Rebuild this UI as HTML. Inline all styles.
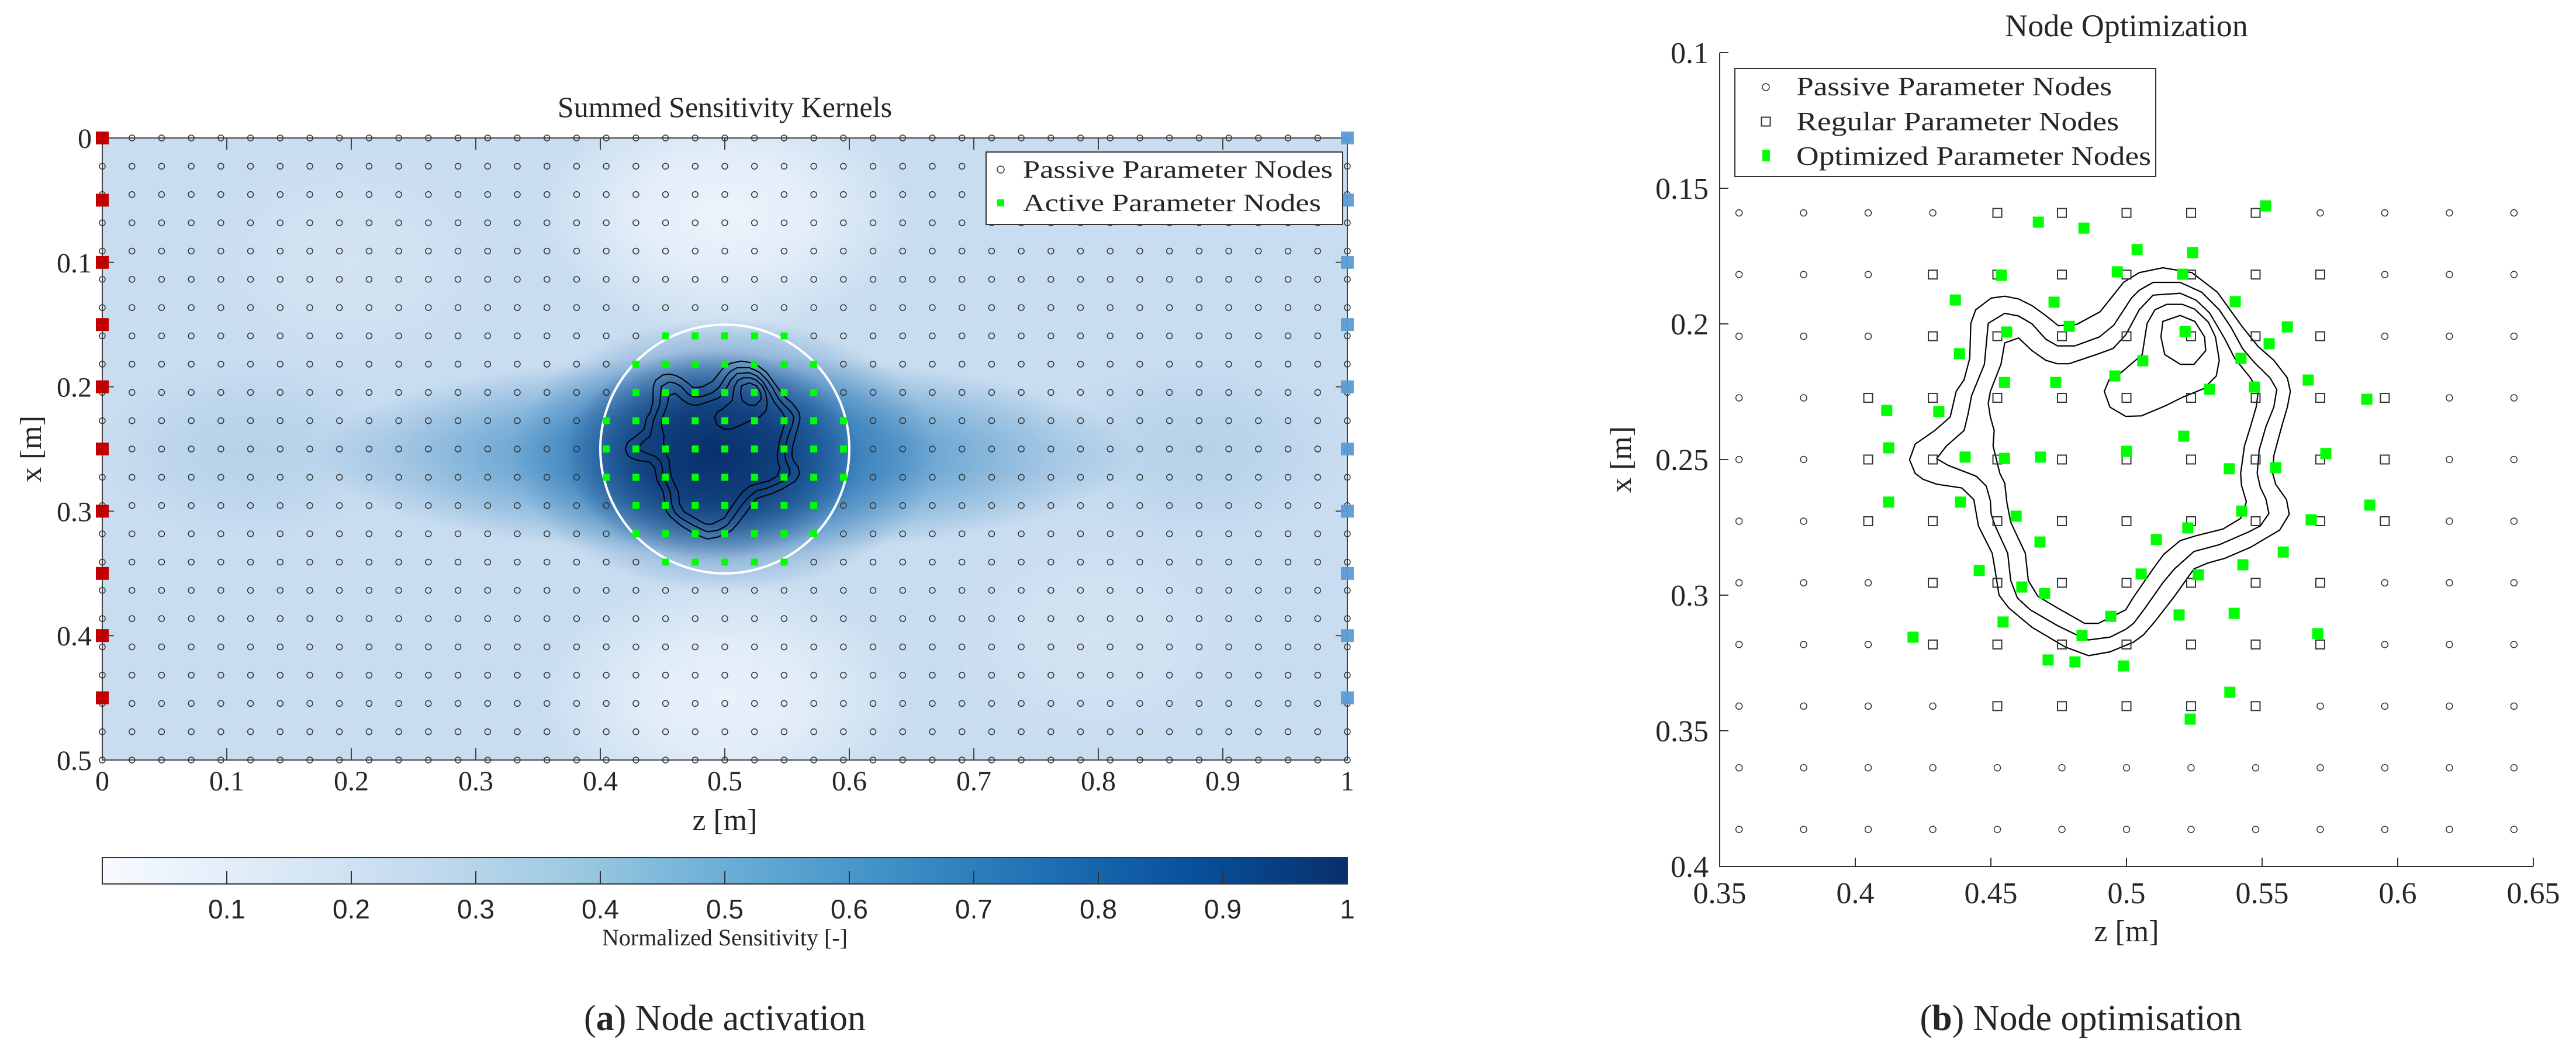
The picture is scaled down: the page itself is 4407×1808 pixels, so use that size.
<!DOCTYPE html>
<html><head><meta charset="utf-8">
<style>
html,body{margin:0;padding:0;background:#fff;}
svg{display:block;}
text{font-family:"Liberation Serif",serif;fill:#262626;}
.sans{font-family:"Liberation Sans",sans-serif;}
</style></head>
<body>
<svg id="fig" xmlns="http://www.w3.org/2000/svg" width="4407" height="1808" viewBox="0 0 4407 1808">
<defs id="defs"></defs>
<g id="left"></g>
<g id="right"></g>
<text x="1240" y="200" font-size="50" text-anchor="middle">Summed Sensitivity Kernels</text>
<text x="1240" y="1420" font-size="52" text-anchor="middle">z [m]</text>
<text transform="translate(70,768) rotate(-90)" font-size="52" text-anchor="middle">x [m]</text>
<text x="1240" y="1617" font-size="40" text-anchor="middle">Normalized Sensitivity [-]</text>
<text x="3638" y="62" font-size="54" text-anchor="middle">Node Optimization</text>
<text x="3638" y="1610" font-size="52" text-anchor="middle">z [m]</text>
<text transform="translate(2790,786) rotate(-90)" font-size="52" text-anchor="middle">x [m]</text>
<text x="1240" y="1762" font-size="62" text-anchor="middle">(<tspan font-weight="bold">a</tspan>) Node activation</text>
<text x="3560" y="1762" font-size="62" text-anchor="middle">(<tspan font-weight="bold">b</tspan>) Node optimisation</text>
</svg>
<script>
// ---------- data ----------
const gridZCount = 42;          // z = j/42
const gridXCount = 44;          // x = i/44
const activeRows = [7,8,9,10,11,12,13,14,15];
const activeColStart = [19,18,18,17,17,17,18,18,19];
const activeColEnd   = [23,24,24,25,25,25,24,24,23];
const sourceX = [0,0.05,0.1,0.15,0.2,0.25,0.3,0.35,0.4,0.45];
const leftXTicks = [0,0.1,0.2,0.3,0.4,0.5,0.6,0.7,0.8,0.9,1];
const leftXTickLabels = ['0','0.1','0.2','0.3','0.4','0.5','0.6','0.7','0.8','0.9','1'];
const leftYTicks = [0,0.1,0.2,0.3,0.4,0.5];
const leftYTickLabels = ['0','0.1','0.2','0.3','0.4','0.5'];
const cbTicks = [0.1,0.2,0.3,0.4,0.5,0.6,0.7,0.8,0.9,1];
const cbTickLabels = ['0.1','0.2','0.3','0.4','0.5','0.6','0.7','0.8','0.9','1'];
const rightZTicks = [0.35,0.4,0.45,0.5,0.55,0.6,0.65];
const rightZTickLabels = ['0.35','0.4','0.45','0.5','0.55','0.6','0.65'];
const rightXTicks = [0.1,0.15,0.2,0.25,0.3,0.35,0.4];
const rightXTickLabels = ['0.1','0.15','0.2','0.25','0.3','0.35','0.4'];
const rightColRange = [15,27];
const rightRowRange = [7,17];
const optZ = [.4675,.4843,.5039,.4539,.4966,.4369,.4733,.4789,.4558,.4384,.4957,.4550,.4739,.5060,.4116,.4308,.4123,.4405,.4550,.4683,.5000,.5513,.5244,.5207,.5401,.5593,.5216,.5526,.5422,.5670,.5306,.5472,.5886,.5211,.5735,.5379,.5550,.4123,.4388,.4593,.4681,.4457,.5054,.4614,.4698,.4942,.4545,.4213,.4836,.4711,.4810,.4989,.5425,.5226,.5110,.5681,.5897,.5578,.5429,.5265,.5194,.5397,.5705,.5381,.5235];
const optX = [.1625,.1647,.1726,.1821,.1808,.1912,.1920,.2009,.2030,.2110,.2192,.2216,.2216,.2136,.2319,.2323,.2457,.2491,.2496,.2491,.2470,.1565,.1737,.1817,.1918,.2011,.2028,.2073,.2127,.2207,.2241,.2233,.2278,.2414,.2478,.2534,.2530,.2657,.2657,.2709,.2804,.2909,.2922,.2970,.2994,.3078,.3099,.3155,.3149,.3239,.3246,.3261,.2690,.2752,.2795,.2722,.2668,.2841,.2888,.2925,.3073,.3067,.3142,.3358,.3457];
const contourOuter = [[.4221,.2551],[.4200,.2501],[.4221,.2443],[.4293,.2393],[.4350,.2343],[.4372,.2249],[.4401,.2206],[.4422,.2127],[.4426,.1998],[.4444,.1948],[.4501,.1905],[.4551,.1898],[.4602,.1908],[.4652,.1933],[.4702,.1969],[.4749,.2007],[.4817,.2002],[.4903,.1955],[.4989,.1847],[.5047,.1811],[.5134,.1793],[.5241,.1811],[.5335,.1883],[.5428,.2012],[.5486,.2084],[.5543,.2134],[.5593,.2199],[.5604,.2249],[.5593,.2307],[.5572,.2379],[.5543,.2486],[.5539,.2551],[.5550,.2591],[.5590,.2648],[.5600,.2702],[.5565,.2760],[.5457,.2824],[.5363,.2864],[.5299,.2882],[.5249,.2903],[.5177,.3004],[.5105,.3097],[.5062,.3147],[.5026,.3173],[.4939,.3209],[.4860,.3223],[.4774,.3191],[.4652,.3119],[.4566,.3047],[.4530,.3000],[.4516,.2911],[.4505,.2846],[.4454,.2745],[.4437,.2648],[.4393,.2605],[.4300,.2591],[.4250,.2573]];
const contourMiddle = [[.4419,.2551],[.4343,.2522],[.4300,.2497],[.4336,.2450],[.4401,.2393],[.4415,.2336],[.4429,.2264],[.4476,.2149],[.4490,.1998],[.4551,.1961],[.4602,.1971],[.4652,.2000],[.4702,.2056],[.4745,.2081],[.4810,.2081],[.4900,.2048],[.4953,.2005],[.5018,.1905],[.5047,.1876],[.5098,.1847],[.5198,.1847],[.5277,.1883],[.5342,.1948],[.5385,.2012],[.5428,.2091],[.5471,.2142],[.5529,.2199],[.5554,.2242],[.5543,.2307],[.5514,.2379],[.5489,.2465],[.5482,.2551],[.5493,.2602],[.5514,.2645],[.5525,.2699],[.5493,.2745],[.5450,.2767],[.5342,.2814],[.5249,.2839],[.5177,.2903],[.5134,.2954],[.5069,.3047],[.5026,.3104],[.4997,.3126],[.4939,.3155],[.4860,.3165],[.4817,.3147],[.4745,.3112],[.4645,.3054],[.4598,.3011],[.4573,.2946],[.4562,.2846],[.4516,.2745],[.4501,.2702],[.4498,.2652],[.4483,.2598],[.4447,.2562]];
const contourInner = [[.4533,.2551],[.4508,.2450],[.4512,.2393],[.4498,.2343],[.4490,.2293],[.4498,.2249],[.4537,.2149],[.4551,.2070],[.4602,.2052],[.4652,.2099],[.4702,.2134],[.4745,.2147],[.4788,.2147],[.4889,.2113],[.4950,.2091],[.4997,.2041],[.5047,.1948],[.5098,.1894],[.5198,.1887],[.5256,.1912],[.5306,.1959],[.5363,.2056],[.5399,.2127],[.5457,.2199],[.5486,.2249],[.5478,.2307],[.5457,.2379],[.5435,.2450],[.5421,.2551],[.5424,.2595],[.5442,.2656],[.5421,.2717],[.5356,.2756],[.5256,.2781],[.5198,.2799],[.5137,.2850],[.5098,.2903],[.5026,.3007],[.4997,.3054],[.4896,.3104],[.4846,.3104],[.4745,.3047],[.4673,.3004],[.4638,.2946],[.4627,.2846],[.4573,.2731],[.4559,.2659],[.4551,.2587]];
const contourPeak = [[.5058,.2113],[.5076,.1998],[.5105,.1948],[.5148,.1928],[.5206,.1928],[.5252,.1946],[.5302,.1994],[.5328,.2048],[.5342,.2134],[.5331,.2192],[.5284,.2239],[.5206,.2271],[.5141,.2303],[.5055,.2339],[.4997,.2341],[.4939,.2307],[.4918,.2249],[.4936,.2206],[.4982,.2178]];
const contourTop = [[.5134,.1991],[.5198,.1969],[.5252,.1991],[.5288,.2048],[.5292,.2099],[.5249,.2149],[.5198,.2149],[.5141,.2113],[.5127,.2048]];
const contours = [contourOuter, contourMiddle, contourInner, contourPeak, contourTop];
// sensitivity field blobs: centre z, centre x, radius z, radius x, colour, opacity
const blobZ = [0.5,0.5,0.2,0.8,0.12,0.88,0.5,0.5,0.49];
const blobX = [0.06,0.45,0.1,0.4,0.25,0.25,0.255,0.255,0.255];
const blobRZ = [0.15,0.15,0.12,0.12,0.12,0.12,0.33,0.17,0.12];
const blobRX = [0.1,0.1,0.09,0.09,0.07,0.07,0.08,0.11,0.085];
const blobColor = ['#f0f6fd','#eef5fc','#dce9f6','#dce9f6','#a9cbe6','#a9cbe6','#3b8ac3','#1c66ad','#08306b'];
const blobOpacity = [0.9,0.85,0.5,0.5,0.6,0.6,0.95,0.9,1];
const cbStops = [0,0.125,0.25,0.375,0.5,0.625,0.75,0.875,1];
const cbColors = ['#f7fbff','#deebf7','#c6dbef','#9ecae1','#6baed6','#4292c6','#2171b5','#08519c','#08306b'];

// ---------- axes ----------
const LX = z => 175 + z*2130;
const LY = x => 236 + x*2128;
const LSX = d => d*2130, LSY = d => d*2128;
const RX = z => 2942 + (z-0.35)*4640;
const RY = x => 90 + (x-0.1)*4640;
const CBX = v => 175 + v*2130;

const NS = 'http://www.w3.org/2000/svg';
function mk(tag, attrs, parent){
  const e = document.createElementNS(NS, tag);
  for (const k in attrs) e.setAttribute(k, attrs[k]);
  parent.appendChild(e);
  return e;
}
const defs = document.getElementById('defs');
const L = document.getElementById('left');
const R = document.getElementById('right');

// ---- left heatmap ----
const clip = mk('clipPath', {id:'lclip'}, defs);
mk('rect', {x:LX(0), y:LY(0), width:LSX(1), height:LSY(0.5)}, clip);
const heat = mk('g', {'clip-path':'url(#lclip)'}, L);


const base = mk('rect', {x:LX(0), y:LY(0), width:LSX(1), height:LSY(0.5), fill:'#c9ddf0'}, heat);


blobZ.forEach((bz, k) => {
  const g = mk('radialGradient', {id:'bg'+k}, defs);
  mk('stop', {offset:'0', 'stop-color':blobColor[k], 'stop-opacity':blobOpacity[k]}, g);
  mk('stop', {offset:'0.45', 'stop-color':blobColor[k], 'stop-opacity':blobOpacity[k]*0.75}, g);
  mk('stop', {offset:'1', 'stop-color':blobColor[k], 'stop-opacity':0}, g);
  const el = mk('ellipse', {cx:LX(bz), cy:LY(blobX[k]), rx:LSX(blobRZ[k]), ry:LSY(blobRX[k]), fill:'url(#bg'+k+')'}, heat);
  
  
});

function isActive(i, j){
  const r = activeRows.indexOf(i);
  return r >= 0 && j >= activeColStart[r] && j <= activeColEnd[r];
}

function drawContours(parent, fx, fy, w){
  contours.forEach(c => {
    const d = c.map((p, k) => (k ? 'L' : 'M') + fx(p[0]).toFixed(1) + ',' + fy(p[1]).toFixed(1)).join('') + 'Z';
    const el = mk('path', {d:d, fill:'none', stroke:'#000', 'stroke-width':w, 'stroke-linejoin':'round'}, parent);
    
    
  });
}
drawContours(L, LX, LY, 2);

const ring = mk('ellipse', {cx:LX(0.5), cy:LY(0.25), rx:LSX(0.1), ry:LSY(0.1), fill:'none', stroke:'#fff', 'stroke-width':4}, L);



const lframe = mk('rect', {x:LX(0), y:LY(0), width:LSX(1), height:LSY(0.5), fill:'none', stroke:'#444', 'stroke-width':2}, L);


leftXTicks.forEach((v, k) => {
  const t = mk('path', {d:`M${LX(v)},${LY(0.5)}v-20M${LX(v)},${LY(0)}v20`, stroke:'#444', 'stroke-width':2}, L);
  
  
  const lb = mk('text', {x:LX(v), y:1352, 'font-size':48, 'text-anchor':'middle'}, L);
  lb.textContent = leftXTickLabels[k];
  
  
});
leftYTicks.forEach((v, k) => {
  const t = mk('path', {d:`M${LX(0)},${LY(v)}h20M${LX(1)},${LY(v)}h-20`, stroke:'#444', 'stroke-width':2}, L);
  
  
  const lb = mk('text', {x:157, y:LY(v)+17, 'font-size':48, 'text-anchor':'end'}, L);
  lb.textContent = leftYTickLabels[k];
  
  
});

for (let i = 0; i <= 22; i++){
  for (let j = 0; j <= gridZCount; j++){
    const z = j/gridZCount, x = i/gridXCount;
    if (isActive(i, j)){
      const s = mk('rect', {x:LX(z)-6, y:LY(x)-6, width:12, height:12, fill:'#00ff00'}, L);
      
      
    } else {
      const c = mk('circle', {cx:LX(z), cy:LY(x), r:5, fill:'none', stroke:'#333', 'stroke-width':1.5}, L);
      
      
    }
  }
}
sourceX.forEach(x => {
  const s = mk('rect', {x:LX(0)-11, y:LY(x)-11, width:22, height:22, fill:'#c00000'}, L);
  
  
  const r = mk('rect', {x:LX(1)-11, y:LY(x)-11, width:22, height:22, fill:'#5b9bd5', 'fill-opacity':0.95}, L);
  
  
});

const lleg = mk('g', {}, L);


mk('rect', {x:1687, y:260, width:610, height:124, fill:'#fff', stroke:'#333', 'stroke-width':2}, lleg);
const lc = mk('circle', {cx:1712, cy:290, r:6, fill:'none', stroke:'#333', 'stroke-width':1.5}, lleg);


const lt1 = mk('text', {x:1750, y:304, 'font-size':42, textLength:530, lengthAdjust:'spacingAndGlyphs'}, lleg);
lt1.textContent = 'Passive Parameter Nodes';


const ls = mk('rect', {x:1706, y:341, width:12, height:12, fill:'#00ff00'}, lleg);


const lt2 = mk('text', {x:1750, y:361, 'font-size':42, textLength:510, lengthAdjust:'spacingAndGlyphs'}, lleg);
lt2.textContent = 'Active Parameter Nodes';



const cg = mk('linearGradient', {id:'cbg', x1:0, x2:1, y1:0, y2:0}, defs);
cbStops.forEach((s, k) => mk('stop', {offset:s, 'stop-color':cbColors[k]}, cg));
const cb = mk('rect', {x:CBX(0), y:1467, width:CBX(1)-CBX(0), height:45, fill:'url(#cbg)', stroke:'#333', 'stroke-width':2}, L);


cbTicks.forEach((v, k) => {
  const t = mk('path', {d:`M${CBX(v)},1512v-22`, stroke:'#333', 'stroke-width':2}, L);
  
  
  const lb = mk('text', {x:CBX(v), y:1571, 'font-size':46, 'text-anchor':'middle', class:'sans'}, L);
  lb.textContent = cbTickLabels[k];
  
  
});

// ---- right plot ----
drawContours(R, RX, RY, 2.2);
for (let i = rightRowRange[0]; i <= rightRowRange[1]; i++){
  for (let j = rightColRange[0]; j <= rightColRange[1]; j++){
    const z = j/gridZCount, x = i/gridXCount;
    if (isActive(i, j)){
      const s = mk('rect', {x:RX(z)-7.5, y:RY(x)-7.5, width:15, height:15, fill:'none', stroke:'#333', 'stroke-width':2}, R);
      
      
    } else {
      const c = mk('circle', {cx:RX(z), cy:RY(x), r:5.5, fill:'none', stroke:'#333', 'stroke-width':1.5}, R);
      
      
    }
  }
}
optZ.forEach((z, k) => {
  const s = mk('rect', {x:RX(z)-9.5, y:RY(optX[k])-9.5, width:19, height:19, fill:'#00ff00'}, R);
  
  
});
const raxes = mk('path', {d:`M${RX(0.35)},${RY(0.1)}V${RY(0.4)}H${RX(0.65)}`, fill:'none', stroke:'#333', 'stroke-width':2}, R);


rightZTicks.forEach((v, k) => {
  const t = mk('path', {d:`M${RX(v)},${RY(0.4)}v-15`, stroke:'#333', 'stroke-width':2}, R);
  
  
  const lb = mk('text', {x:RX(v), y:1545, 'font-size':52, 'text-anchor':'middle'}, R);
  lb.textContent = rightZTickLabels[k];
  
  
});
rightXTicks.forEach((v, k) => {
  const t = mk('path', {d:`M${RX(0.35)},${RY(v)}h15`, stroke:'#333', 'stroke-width':2}, R);
  
  
  const lb = mk('text', {x:2923, y:RY(v)+18, 'font-size':52, 'text-anchor':'end'}, R);
  lb.textContent = rightXTickLabels[k];
  
  
});
const rleg = mk('g', {}, R);


mk('rect', {x:2968, y:117, width:720, height:185, fill:'#fff', stroke:'#333', 'stroke-width':2}, rleg);
const rc = mk('circle', {cx:3021, cy:149, r:6, fill:'none', stroke:'#333', 'stroke-width':1.5}, rleg);


const rt1 = mk('text', {x:3073, y:163, 'font-size':46, textLength:540, lengthAdjust:'spacingAndGlyphs'}, rleg);
rt1.textContent = 'Passive Parameter Nodes';


const rs = mk('rect', {x:3013.5, y:200.5, width:15, height:15, fill:'none', stroke:'#333', 'stroke-width':2}, rleg);


const rt2 = mk('text', {x:3073, y:223, 'font-size':46, textLength:552, lengthAdjust:'spacingAndGlyphs'}, rleg);
rt2.textContent = 'Regular Parameter Nodes';


const rg = mk('rect', {x:3015, y:256, width:13, height:20, fill:'#00ff00'}, rleg);


const rt3 = mk('text', {x:3073, y:282, 'font-size':46, textLength:607, lengthAdjust:'spacingAndGlyphs'}, rleg);
rt3.textContent = 'Optimized Parameter Nodes';


</script>
</body></html>
